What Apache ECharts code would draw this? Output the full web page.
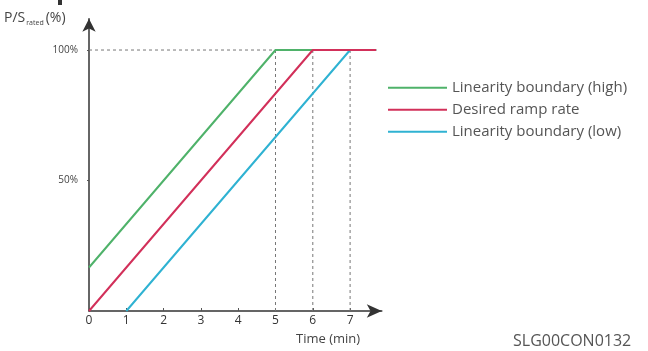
<!DOCTYPE html>
<html><head><meta charset="utf-8">
<script src="https://cdn.jsdelivr.net/npm/echarts@6/dist/echarts.min.js"></script>
<style>html,body{margin:0;padding:0;background:#fff}#c{width:648px;height:351px}</style>
</head><body><div id="c"></div>
<script>
const xTicks = [0,1,2,3,4,5,6,7];
const yTicks = [50,100];
const highX = [0,5,7.7];   const highY = [16.67,100,100];
const rampX = [0,6,7.7];   const rampY = [0,100,100];
const lowX  = [1,7,7.7];   const lowY  = [0,100,100];
const guideH = [[0,100],[5,100]];
const guideV = [5,6,7];
const names = ['Linearity boundary (high)','Desired ramp rate','Linearity boundary (low)'];
const colors = ['#4fb26a','#d2305a','#2fb2d2'];
const zip = (xs, ys) => xs.map((x,i)=>[x,ys[i]]);
const font = '"Open Sans", "Noto Sans", sans-serif';
const dash = {color:'#777', width:1, type:[3,3]};
const series = [
  {name:names[2], type:'line', data:zip(lowX,lowY), symbol:'none', lineStyle:{color:colors[2],width:2}, itemStyle:{color:colors[2]}, z:3},
  {name:names[0], type:'line', data:zip(highX,highY), symbol:'none', lineStyle:{color:colors[0],width:2}, itemStyle:{color:colors[0]}, z:4},
  {name:names[1], type:'line', data:zip(rampX,rampY), symbol:'none', lineStyle:{color:colors[1],width:2}, itemStyle:{color:colors[1]}, z:5},
  {type:'line', data:guideH, symbol:'none', lineStyle:dash, silent:true, z:2}
].concat(guideV.map(v=>({type:'line', data:[[v,0],[v,100]], symbol:'none', lineStyle:dash, silent:true, z:2})));
const chart = echarts.init(document.getElementById('c'), null, {renderer:'canvas'});
chart.setOption({
  animation:false,
  grid:{left:89, top:18.7, width:292.8, height:292.3, containLabel:false},
  xAxis:{type:'value', min:0, max:7.85, interval:1,
    axisLine:{show:true, symbol:['none','arrow'], symbolSize:[10,15], lineStyle:{color:'#333',width:1.5}},
    axisTick:{show:true, inside:true, length:3, lineStyle:{color:'#555'}, customValues:xTicks},
    axisLabel:{customValues:xTicks, color:'#333', fontSize:12, fontFamily:font, margin:4},
    splitLine:{show:false}},
  yAxis:{type:'value', min:0, max:112, interval:50,
    axisLine:{show:true, symbol:['none','arrow'], symbolSize:[10,13], lineStyle:{color:'#333',width:1.5}},
    axisTick:{show:true, length:2, lineStyle:{color:'#555'}, customValues:yTicks},
    axisLabel:{customValues:yTicks, formatter:'{value}%', color:'#444', fontSize:10, fontFamily:font, margin:11},
    splitLine:{show:false}},
  legend:{data:names, orient:'vertical', left:388, top:79, padding:0, itemWidth:59, itemHeight:2, itemGap:4.5, icon:'rect',
    textStyle:{color:'#555', fontSize:15, fontFamily:font, lineHeight:17.5}},
  graphic:[
    {type:'rect', shape:{x:58, y:0, width:4, height:5}, style:{fill:'#333'}},
    {type:'text', left:4, top:11, style:{text:'{a|P/S}{b|rated}{a|(%)}', rich:{
      a:{fontSize:14, fill:'#444', fontFamily:font},
      b:{fontSize:7, fill:'#444', fontFamily:font, padding:[9,2,0,1]}}}},
    {type:'text', left:296, top:333, style:{text:'Time (min)', fontSize:13, fill:'#444', fontFamily:font}},
    {type:'text', left:513, top:333, style:{text:'SLG00CON0132', fontSize:16, fill:'#555', fontFamily:font}}
  ],
  series:series
});
</script></body></html>
